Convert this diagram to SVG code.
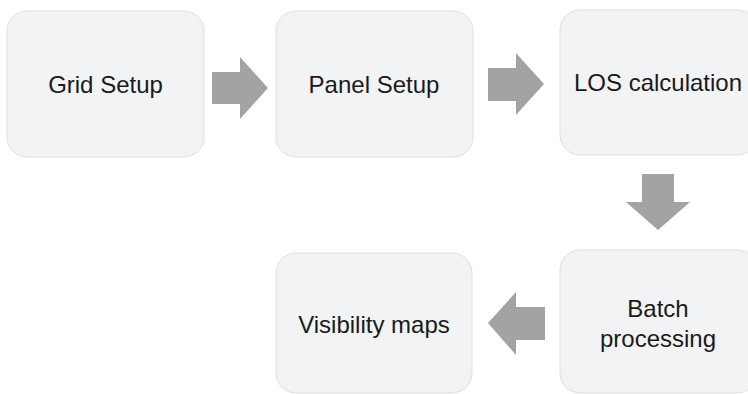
<svg xmlns="http://www.w3.org/2000/svg" width="748" height="394" viewBox="0 0 748 394">
<style>
.box{fill:#f2f3f5;stroke:#dedfe1;stroke-width:1}
.lbl{font-family:"Liberation Sans",Arial,sans-serif;font-size:24px;fill:#1a1a1a;text-anchor:middle}
.arr{fill:#a3a3a3}
</style>
<rect width="748" height="394" fill="#ffffff"/>
<g id="grid-setup"><rect class="box" x="7" y="11" width="197" height="146" rx="20"/><text class="lbl" x="105.5" y="93">Grid Setup</text></g>
<g id="panel-setup"><rect class="box" x="276" y="11" width="197" height="146" rx="20"/><text class="lbl" x="374" y="93">Panel Setup</text></g>
<g id="los-calculation"><rect class="box" x="560" y="10" width="197" height="145" rx="20"/><text class="lbl" x="658" y="91">LOS calculation</text></g>
<g id="batch-processing"><rect class="box" x="560" y="250" width="197" height="143" rx="20"/><text class="lbl" x="658" y="317">Batch</text><text class="lbl" x="658" y="347">processing</text></g>
<g id="visibility-maps"><rect class="box" x="276" y="253" width="196" height="140" rx="20"/><text class="lbl" x="374" y="333">Visibility maps</text></g>
<g id="connectors">
<polygon class="arr" points="212,72 240,72 240,57 268,88 240,119 240,104 212,104"/>
<polygon class="arr" points="488,68 516,68 516,53 544,84 516,115 516,101 488,101"/>
<polygon class="arr" points="642,174 674,174 674,202 690,202 658,230 626,202 642,202"/>
<polygon class="arr" points="545,307 516,307 516,292 488,323 516,355 516,340 545,340"/>
</g>
</svg>
